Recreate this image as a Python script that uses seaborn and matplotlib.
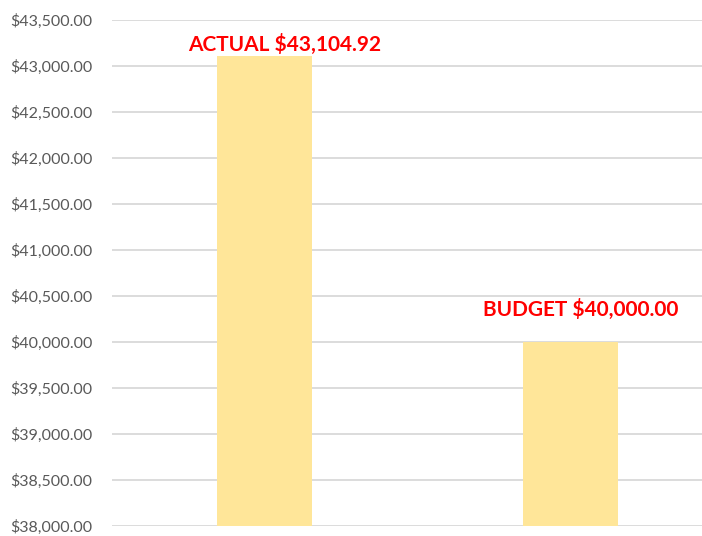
import matplotlib

matplotlib.use("Agg")

import matplotlib.pyplot as plt
import seaborn as sns
from matplotlib.ticker import FuncFormatter, MultipleLocator

CATEGORIES = ["ACTUAL", "BUDGET"]
VALUES = [43104.92, 40000.00]
BAR_COLOR = "#FFE699"
LABEL_COLOR = "#FF0000"
# label offsets (points) as placed by hand in the original
LABEL_OFFSETS = [(14, 1), (7, 16)]


def main() -> None:
    sns.set_theme(style="white")
    plt.rcParams["font.family"] = ["Lato", "DejaVu Sans"]

    fig = plt.figure(figsize=(7.02, 5.36), dpi=100)
    ax = fig.add_axes([0.1595, 0.0187, 0.8405, 0.944])
    sns.barplot(x=CATEGORIES, y=VALUES, color=BAR_COLOR, width=0.31, saturation=1,
                linewidth=0, ax=ax)

    ax.set_ylim(38000, 43500)
    ax.set_xlim(-0.5, 1.43)
    ax.yaxis.set_major_locator(MultipleLocator(500))
    ax.yaxis.set_major_formatter(FuncFormatter(lambda v, _: f"${v:,.2f}"))
    ax.tick_params(axis="y", length=0, pad=14, labelsize=11.5, labelcolor="#595959")
    ax.set_xticks([])
    ax.set_xlabel("")
    ax.set_ylabel("")
    ax.grid(axis="y", color="#D9D9D9", linewidth=1.3)
    ax.set_axisbelow(True)
    sns.despine(ax=ax, left=True, bottom=True)

    for idx, (cat, val) in enumerate(zip(CATEGORIES, VALUES)):
        ax.annotate(f"{cat} ${val:,.2f}", xy=(idx, val), xytext=LABEL_OFFSETS[idx],
                    textcoords="offset points", ha="center", va="bottom", fontsize=15,
                    fontweight="bold", color=LABEL_COLOR, annotation_clip=False)

    fig.savefig("out.png", dpi=100)


if __name__ == "__main__":
    main()
